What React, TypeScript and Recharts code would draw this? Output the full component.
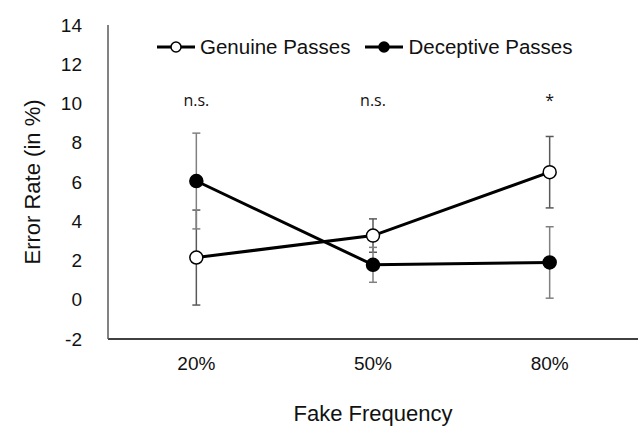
import { LineChart, Line, XAxis, YAxis, ErrorBar, Legend, ReferenceDot } from 'recharts'

const categories = ['20%', '50%', '80%']
const genuine = [2.15, 3.27, 6.5]
const genuineErr = [2.42, 0.85, 1.82]
const deceptive = [6.05, 1.78, 1.9]
const deceptiveErr = [2.44, 0.89, 1.82]
const significance = ['n.s.', 'n.s.', '*']
const sigLevel = 10.2
const yTicks = [-2, 0, 2, 4, 6, 8, 10, 12, 14]

const data = categories.map((c, i) => ({
  name: c,
  genuine: genuine[i],
  genuineErr: genuineErr[i],
  deceptive: deceptive[i],
  deceptiveErr: deceptiveErr[i],
}))

const FONT = '"Liberation Sans", Arial, sans-serif'

const legendItems = [
  { label: 'Genuine Passes', fill: '#fff' },
  { label: 'Deceptive Passes', fill: '#000' },
]

function LegendContent() {
  return (
    <div style={{ display: 'flex', alignItems: 'center', fontFamily: FONT, fontSize: 20.5, color: '#111' }}>
      {legendItems.map((it) => (
        <div key={it.label} style={{ display: 'flex', alignItems: 'center', marginRight: 14 }}>
          <svg width={40} height={16} style={{ marginRight: 4 }}>
            <line x1={1} y1={8} x2={39} y2={8} stroke="#000" strokeWidth={3} />
            <circle cx={20} cy={8} r={5} fill={it.fill} stroke="#000" strokeWidth={1.5} />
          </svg>
          <span>{it.label}</span>
        </div>
      ))}
    </div>
  )
}

function YTitle(props: any) {
  const vb = props.viewBox
  const cx = vb.x + 32
  const cy = vb.y + vb.height / 2
  return (
    <text
      x={cx}
      y={cy}
      transform={`rotate(-90, ${cx}, ${cy})`}
      textAnchor="middle"
      dominantBaseline="central"
      fontFamily={FONT}
      fontSize={22}
      fill="#111"
    >
      Error Rate (in %)
    </text>
  )
}

function SigLabel(props: any) {
  const vb = props.viewBox
  const cx = vb.x + vb.width / 2
  const cy = vb.y + vb.height / 2
  return (
    <text x={cx} y={cy} textAnchor="middle" dominantBaseline="central" fontFamily='"Open Sans", sans-serif' fontSize={16} fill="#111">
      {props.value}
    </text>
  )
}

export default function App() {
  return (
    <div style={{ position: 'absolute', left: 0, top: 0, background: '#fff' }}>
      <LineChart width={638} height={427} data={data} margin={{ top: 25, right: 0, bottom: 0, left: 0 }}>
        <XAxis
          dataKey="name"
          scale="band"
          height={88}
          axisLine={{ stroke: '#000', strokeWidth: 1.5 }}
          tickLine={false}
          tickMargin={12}
          tick={{ fontFamily: FONT, fontSize: 19, fill: '#111' }}
          label={{
            value: 'Fake Frequency',
            position: 'insideBottom',
            offset: 6,
            style: { fontFamily: FONT, fontSize: 22, fill: '#111' },
          }}
        />
        <YAxis
          width={108}
          domain={[-2, 14]}
          ticks={yTicks}
          interval={0}
          axisLine={{ stroke: '#595959', strokeWidth: 1.5 }}
          tickLine={false}
          tickMargin={20}
          tick={{ fontFamily: FONT, fontSize: 19, fill: '#111' }}
          label={<YTitle />}
        />
        <Legend
          layout="horizontal"
          verticalAlign="middle"
          align="center"
          content={<LegendContent />}
          wrapperStyle={{ top: 35, left: 156, width: 480 }}
        />
        {categories.map((c, i) => (
          <ReferenceDot
            key={c}
            x={c}
            y={sigLevel}
            r={0}
            fill="none"
            stroke="none"
            label={<SigLabel value={significance[i]} />}
          />
        ))}
        <Line
          dataKey="genuine"
          stroke="#000"
          strokeWidth={3}
          isAnimationActive={false}
          dot={{ r: 6.5, fill: '#fff', stroke: '#000', strokeWidth: 1.5 }}
          activeDot={false}
        >
          <ErrorBar dataKey="genuineErr" width={4} stroke="#595959" strokeWidth={1.5} />
        </Line>
        <Line
          dataKey="deceptive"
          stroke="#000"
          strokeWidth={3}
          isAnimationActive={false}
          dot={{ r: 6.5, fill: '#000', stroke: '#000', strokeWidth: 1.5 }}
          activeDot={false}
        >
          <ErrorBar dataKey="deceptiveErr" width={4} stroke="#808080" strokeWidth={1.5} />
        </Line>
      </LineChart>
    </div>
  )
}
